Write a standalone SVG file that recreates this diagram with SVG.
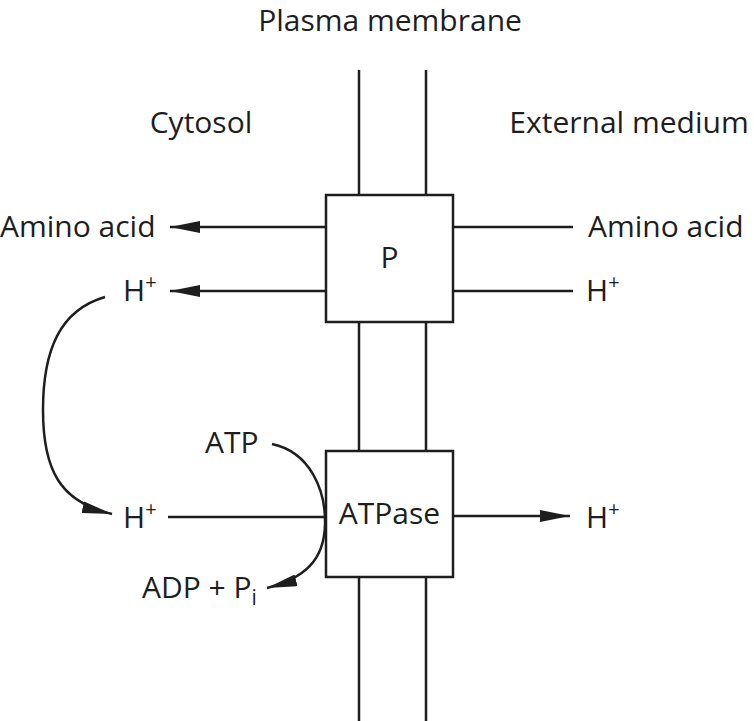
<svg xmlns="http://www.w3.org/2000/svg" width="754" height="721" viewBox="0 0 754 721">
<style>
text{font-family:"Open Sans","Liberation Sans",sans-serif;font-size:30px;fill:#1e1e1e}
.ln{stroke:#1e1e1e;stroke-width:2.5;fill:none}
.box{stroke:#1e1e1e;stroke-width:2.5;fill:#fff}
</style>
<defs>
<marker id="ah" viewBox="0 0 30 12" refX="30" refY="6" markerWidth="30" markerHeight="12" markerUnits="userSpaceOnUse" orient="auto">
<path d="M0,0 L30,6 L0,12 Z" fill="#1e1e1e"/>
</marker>
</defs>
<rect width="754" height="721" fill="#fff"/>
<g id="labels">
<text x="390" y="31" text-anchor="middle">Plasma membrane</text>
<text x="201" y="133" text-anchor="middle">Cytosol</text>
<text x="629" y="133" text-anchor="middle">External medium</text>
</g>
<g id="membrane">
<line class="ln" x1="359" y1="70" x2="359" y2="721"/>
<line class="ln" x1="426" y1="70" x2="426" y2="721"/>
</g>
<g id="connectors">
<line class="ln" x1="326" y1="227" x2="170" y2="227" marker-end="url(#ah)"/>
<line class="ln" x1="326" y1="291" x2="170" y2="291" marker-end="url(#ah)"/>
<line class="ln" x1="453" y1="227" x2="573" y2="227"/>
<line class="ln" x1="453" y1="291" x2="573" y2="291"/>
<line class="ln" x1="168" y1="517" x2="326" y2="517"/>
<line class="ln" x1="453" y1="516" x2="570" y2="516" marker-end="url(#ah)"/>
<path class="ln" d="M105,297 C60,310 43,350 43,410 C43,470 60,502 112,514" marker-end="url(#ah)"/>
<path class="ln" d="M272,444 C310,452 326,490 325,525 C324,560 305,578 267,588" marker-end="url(#ah)"/>
</g>
<g id="P">
<rect class="box" x="326" y="195" width="127" height="127"/>
<text x="389.5" y="268" text-anchor="middle">P</text>
</g>
<g id="ATPase">
<rect class="box" x="326" y="451" width="127" height="126"/>
<text x="389.5" y="524" text-anchor="middle">ATPase</text>
</g>
<g id="species">
<text x="0" y="237">Amino acid</text>
<text x="123" y="301">H<tspan font-size="20" dy="-12">+</tspan></text>
<text x="588" y="237">Amino acid</text>
<text x="586" y="301">H<tspan font-size="20" dy="-12">+</tspan></text>
<text x="123" y="528">H<tspan font-size="20" dy="-12">+</tspan></text>
<text x="586" y="528">H<tspan font-size="20" dy="-12">+</tspan></text>
<text x="205" y="453">ATP</text>
<text x="142" y="598">ADP + P<tspan font-size="21" dy="7">i</tspan></text>
</g>
</svg>
